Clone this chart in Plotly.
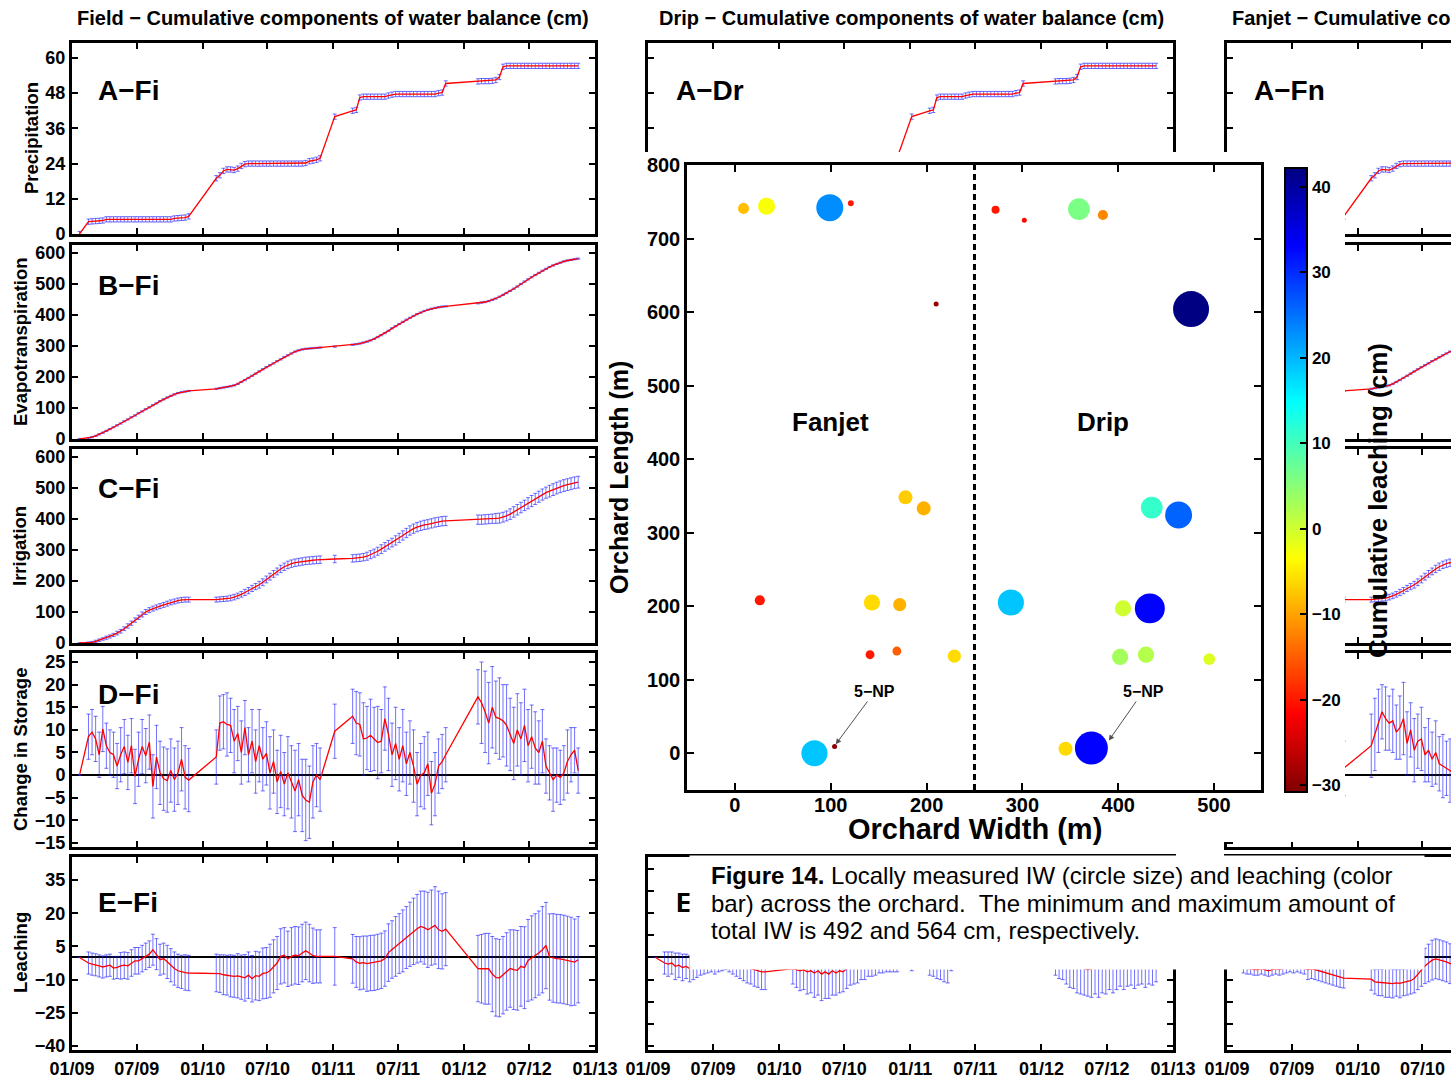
import pandas as pd
import plotly.graph_objects as go

W, H = 1451, 1078
FONT = "Liberation Sans, Arial, Helvetica, sans-serif"

# ------------------------------------------------------------------ data
# observation schedule: segment start dates and number of 10-day samples
seg_start = ['2009-01-22', '2009-02-16', '2010-02-08', '2011-01-05', '2011-02-24', '2012-02-09']
seg_count = [1, 29, 30, 1, 27, 29]

date_ticks = ['2009-01-01', '2009-07-01', '2010-01-01', '2010-07-01', '2011-01-01',
              '2011-07-01', '2012-01-01', '2012-07-01', '2013-01-01']

precip_cm = [
    0.0,
    4.2, 4.3, 4.4, 4.5, 4.6, 5.0, 5.0, 5.0, 5.0, 5.0, 5.0, 5.0, 5.0, 5.0, 5.0, 5.0, 5.0, 5.0, 5.0,
    5.0, 5.0, 5.0, 5.0, 5.0, 5.3, 5.4, 5.5, 5.6, 6.0,
    19.0, 20.0, 21.5, 22.0, 22.0, 21.8, 22.3, 23.2, 23.8, 24.0, 24.0, 24.0, 24.0, 24.0, 24.0, 24.0,
    24.0, 24.0, 24.0, 24.0, 24.0, 24.0, 24.0, 24.0, 24.0, 24.2, 24.8, 25.0, 25.3, 25.8,
    40.0,
    42.0, 42.3, 46.5, 46.8, 46.8, 46.8, 46.8, 46.8, 46.8, 46.8, 47.2, 47.5, 47.7, 47.7, 47.7, 47.7,
    47.7, 47.7, 47.7, 47.7, 47.7, 47.7, 47.7, 47.7, 48.0, 48.2, 51.3,
    52.0, 52.1, 52.1, 52.1, 52.2, 52.5, 53.5, 57.0, 57.3, 57.3, 57.3, 57.3, 57.3, 57.3, 57.3, 57.3,
    57.3, 57.3, 57.3, 57.3, 57.3, 57.3, 57.3, 57.3, 57.3, 57.3, 57.3, 57.3, 57.3,
]
precip_err = 0.9

et_cm = [
    0,
    3, 6, 10, 15, 20, 26, 32, 38, 44, 50, 57, 63, 70, 76, 83, 89, 96, 102, 109, 115,
    122, 128, 134, 139, 144, 148, 151, 153, 155,
    162, 164, 166, 168, 170, 173, 178, 184, 190, 197, 204, 211, 218, 225, 232, 238, 244, 251, 257, 264,
    270, 276, 282, 286, 289, 291, 292, 293, 294, 295,
    298,
    304, 306, 308, 311, 314, 318, 323, 329, 335, 342, 349, 357, 364, 371, 378, 385, 391, 397, 403, 408,
    413, 417, 420, 423, 425, 427, 428,
    438, 440, 442, 445, 449, 453, 459, 465, 471, 478, 485, 492, 500, 508, 515, 522, 529, 536, 543, 549,
    555, 560, 565, 569, 573, 576, 578, 580, 582,
]
et_err = 2.0

irrig_cm = [
    0,
    0.5, 2, 5, 9, 13, 17, 21, 26, 32, 38, 46, 55, 64, 74, 83, 92, 100, 106, 111, 115,
    119, 123, 127, 131, 134, 137, 139, 140, 140,
    140, 141, 142, 143, 145, 148, 152, 157, 163, 169, 176, 182, 188, 196, 205, 214, 223, 231, 239, 246,
    252, 256, 259, 261, 263, 265, 266, 267, 268, 269,
    271,
    273, 274, 275, 277, 280, 285, 290, 296, 303, 310, 317, 324, 331, 339, 347, 355, 363, 369, 374, 378,
    381, 383, 386, 389, 391, 393, 394,
    398, 398, 399, 400, 401, 402, 403, 406, 410, 416, 423, 430, 437, 444, 451, 458, 465, 472, 479, 485,
    490, 495, 500, 504, 508, 511, 514, 517, 519,
]
irrig_err = [
    0,
    3, 3, 4, 4, 4, 5, 5, 5, 6, 6, 6, 7, 7, 7, 7, 8, 8, 8, 8, 8, 8, 8, 8, 8, 8, 8, 8, 8, 8,
    8, 8, 8, 8, 9, 9, 9, 9, 10, 10, 10, 10, 11, 11, 11, 11, 11, 11, 12, 12,
    12, 12, 12, 12, 12, 12, 12, 12, 12, 12,
    12,
    12, 12, 12, 12, 13, 13, 13, 13, 14, 14, 14, 14, 15, 15, 15, 15, 15, 15, 15, 15,
    15, 15, 15, 15, 15, 15, 15,
    15, 15, 15, 15, 15, 16, 16, 16, 16, 17, 17, 17, 17, 17, 18, 18, 18, 18, 18, 18,
    19, 19, 19, 19, 19, 19, 19, 19, 19,
]

dstor_fi = [
    0.0,
    8.5, 9.5, 8.0, 4.5, 10.2, 6.5, 5.0, 4.5, 2.0, 4.5, 6.3, 2.8, 6.5, -0.3, 3.5, 6.3, 4.3, 7.3, -2.5, 4.0,
    0.5, -0.8, -1.2, 1.0, -1.0, 0.5, 3.5, -0.5, -1.1,
    4.0, 11.5, 11.8, 11.2, 11.0, 7.5, 9.2, 5.0, 10.5, 4.5, 7.5, 3.0, 6.5, 3.5, 4.8, 0.5, 3.0, -1.5, 0.8, -2.0,
    0.5, -1.5, -3.5, -1.0, -4.5, -5.5, -6.0, -1.5, 0.0, -1.0,
    9.7,
    13.0, 11.5, 11.2, 8.0, 8.2, 8.8, 8.0, 7.2, 7.5, 12.5, 9.0, 4.5, 7.0, 3.5, 6.5, 2.5, 5.0, 2.0, -2.0, 0.0,
    0.5, 2.5, -4.0, -2.0, 2.0, 3.0, 4.5,
    17.3, 16.0, 14.0, 11.5, 15.0, 12.8, 12.5, 12.0, 11.0, 9.0, 7.0, 10.0, 8.0, 11.0, 6.5, 8.5, 6.0, 5.0, 7.5, 2.0,
    0.5, -1.0, 0.0, -0.5, 0.5, 3.0, 4.5, 5.5, 1.0,
]
dstor_fi_err = [
    0,
    5, 5, 5, 5, 5, 5, 5, 5, 5, 6, 6, 6, 6, 6, 6, 6, 6, 6, 7, 7, 7, 7, 7, 7, 7, 7, 7, 7, 7,
    6, 6, 6, 7, 6, 7, 6, 7, 6, 6, 7, 7, 8, 7, 7, 8, 7, 7, 8, 7, 8, 8, 9, 8, 8, 9, 8, 8, 7, 7,
    6,
    6, 7, 7, 8, 7, 8, 7, 8, 7, 7, 8, 7, 8, 7, 8, 7, 7, 8, 7, 7, 8, 7, 7, 7, 6, 6, 6,
    6, 9, 9, 9, 9, 8, 9, 8, 9, 8, 8, 8, 8, 8, 8, 7, 8, 7, 7, 6, 6, 7, 6, 6, 6, 7, 6, 5, 5,
]

leach_fi = [
    0.0,
    -2.5, -3.0, -3.3, -3.8, -4.3, -3.8, -3.5, -4.8, -4.5, -3.8, -3.5, -3.8, -2.5, -1.5, -1.5, -0.5, 0.5, 1.5,
    3.5, 1.5, -1.0, -0.5, -2.0, -3.5, -5.0, -6.0, -6.5, -6.8, -7.0,
    -7.0, -7.3, -7.8, -8.0, -8.3, -8.5, -8.3, -8.9, -9.2, -8.0, -9.6, -8.2, -8.5, -7.2, -7.0, -6.0, -4.0, -2.5,
    0.5, 1.0, -0.6, 0.5, 1.0, 0.8, 2.0, 3.0, 2.0, 0.8, 0.5, 0.5,
    0.5,
    -0.6, -2.0, -2.6, -2.3, -2.8, -2.5, -2.4, -2.0, -1.5, -0.5, 2.2, 3.6, 5.0, 6.3, 7.5, 9.0, 10.5, 11.8,
    13.0, 14.0, 13.5, 12.5, 13.5, 14.5, 12.5, 11.8, 12.8,
    -5.0, -5.1, -5.1, -5.1, -7.5, -9.0, -9.3, -8.0, -6.3, -5.0, -5.5, -5.8, -4.0, -4.6, -1.3, -0.2, 0.8, 2.0,
    3.5, 5.4, 0.2, -0.2, -0.5, -0.6, -0.9, -1.3, -1.8, -2.1, -1.0,
]
leach_fi_err = [
    0,
    5, 5, 5, 5, 5, 5, 5, 5, 5, 6, 6, 6, 6, 6, 6, 6, 6, 6, 7, 7, 7, 7, 7.5, 7.5, 7.5, 7.5, 7.5, 8, 8,
    8.5, 8.5, 9, 9, 9.5, 9.5, 10, 10, 10.5, 10.5, 10.5, 11, 11, 11.5, 11.5, 12, 12, 12, 12.5, 12.5,
    12.5, 13, 13, 13, 13, 13, 13, 12.5, 12, 12,
    13,
    11, 11.5, 12, 12, 12.5, 12.5, 12.5, 12.5, 12.5, 12.5, 13, 13, 13.5, 13.5, 14, 14, 14.5, 15, 15.5, 16,
    16.5, 17, 17, 17.5, 17.5, 17, 16.5,
    15, 15.5, 16, 16, 17, 17.5, 17.5, 17.5, 17.5, 17.5, 18, 18, 18, 18.5, 18.5, 19, 19, 19, 19.5, 19.5,
    19.5, 20, 20, 20, 20, 20, 20, 19.5, 19.5,
]

leach_dr = [
    0.0,
    -2.5, -3.0, -2.5, -4.0, -3.5, -4.5, -4.0, -5.0, -4.5, -4.0, -3.5, -3.0, -3.0, -2.5, -3.0, -2.5, -2.0, -1.5,
    -2.0, -2.5, -3.0, -3.5, -4.0, -4.5, -5.0, -5.5, -6.0, -6.5, -6.5,
    -5.0, -5.5, -6.0, -5.5, -6.5, -6.0, -7.0, -6.0, -7.5, -6.5, -7.5, -6.0, -7.0, -6.0, -6.5, -5.0, -4.5, -4.0,
    -3.5, -3.0, -3.0, -2.5, -2.5, -2.0, -2.0, -2.0, -1.5, -1.5, -1.5, -1.5,
    -1.0,
    -3.0, -2.5, -3.5, -3.0, -4.0, -3.5, -1.0, 0.0, 0.5, 1.0, 1.5, 2.0, 2.5, 2.5, 3.0, 3.0, 3.5, 3.5, 3.0, 3.0,
    3.5, 3.5, 3.0, 3.0, 2.5, 2.5, 2.0,
    -3.0, -3.5, -3.0, -4.0, -4.5, -4.0, -5.0, -4.5, -5.0, -5.5, -5.0, -4.5, -5.0, -4.0, -4.5, -3.5, -4.0, -3.5,
    -3.0, -3.5, -3.0, -2.5, -3.0, -2.5, -2.0, -2.5, -2.0, -2.5, -2.0,
]
leach_dr_err = [
    0,
    5, 5.5, 5, 6, 5.5, 6, 5.5, 6, 5.5, 5, 4.5, 4.5, 4, 4, 4.5, 4, 4, 4, 4.5, 5, 5.5, 6, 6.5, 7, 7, 7.5, 7.5, 8, 8,
    7, 8, 9, 9, 10, 10, 11, 11, 12, 12, 11, 11, 10, 10, 9, 9, 8, 8, 8, 7, 7, 6, 6, 6, 5, 5, 5, 5, 5, 5,
    5,
    5, 6, 6, 7, 7, 8, 5, 5, 5, 5, 5, 5, 5, 5, 5, 5, 5, 5, 5, 5, 5, 5, 5, 5, 5, 5, 5,
    5, 6, 7, 8, 9, 10, 11, 12, 12, 12, 13, 12, 13, 12, 12, 11, 12, 11, 10, 11, 10, 10, 11, 10, 10, 11, 10, 10, 9,
]

# Fanjet change in storage / leaching (2009-2010 part, the visible span)
dstor_fn = [
    0.0,
    6.0, 8.0, 7.0, 5.0, 9.0, 6.0, 5.0, 4.0, 3.0, 5.0, 6.0, 3.0, 5.0, 1.0, 3.0, 5.0, 4.0, 6.0, 0.0, 3.0,
    1.0, 0.0, -1.0, 1.0, 0.0, 1.0, 2.0, 1.0, 1.5,
    6.5, 9.0, 12.0, 14.0, 12.5, 11.5, 12.0, 9.5, 10.5, 12.5, 7.0, 10.0, 5.5, 7.5, 8.0, 4.5, 5.5, 3.5, 5.0, 2.5,
    2.0, 1.5, 1.0, 0.5, 1.0, -0.5, 0.0, 1.0, 0.5, 0.0,
]
dstor_fn_err = [
    0,
    6, 6, 6, 6, 6, 6, 6, 6, 6, 6, 6, 6, 6, 6, 6, 6, 6, 6, 6, 6, 6, 6, 6, 6, 6, 6, 6, 6, 6,
    7, 8, 7, 6, 7, 6, 7, 6, 7, 8, 7, 6, 7, 6, 7, 6, 7, 6, 7, 6, 7, 6, 7, 6, 7, 6, 7, 6, 7, 6,
]
leach_fn = [
    0.0,
    -4.5, -5.0, -5.0, -5.5, -5.5, -5.0, -5.5, -6.0, -5.5, -5.0, -5.5, -5.0, -4.5, -4.0, -4.5, -4.0, -4.5, -5.0,
    -5.5, -5.0, -5.5, -6.0, -6.5, -7.0, -7.5, -8.0, -8.5, -9.0, -9.3,
    -9.8, -11.0, -11.2, -11.3, -11.5, -11.5, -11.8, -11.5, -11.7, -11.3, -11.0, -10.5, -9.5, -7.5, -5.5,
    -3.8, -2.5, -1.2, -0.6, -1.0, -1.5, -2.0, -2.8, -2.5, -3.0, -2.5, -3.0, -3.5, -3.0, -3.0,
]
leach_fn_err = [
    0,
    2.5, 2.5, 2.5, 2.5, 2.5, 2.5, 2.5, 2.5, 2.5, 2.5, 2.5, 2.5, 2.5, 2.5, 2.5, 2.5, 2.5, 2.5,
    4.5, 4.5, 4.5, 4.5, 4.5, 4.5, 4.5, 4.5, 4.5, 4.5, 4.5,
    5, 5.5, 6, 6, 6.5, 6.5, 6.5, 6, 6.5, 6, 6, 6, 6.5, 7, 7.5, 8, 8.5, 9, 9, 9,
    9, 9, 9, 9, 9, 9, 9, 9, 9, 9,
]

ticks_A = [0, 12, 24, 36, 48, 60]
ticks_BC = [0, 100, 200, 300, 400, 500, 600]
ticks_D = [-15, -10, -5, 0, 5, 10, 15, 20, 25]
ticks_E_fi = [-40, -25, -10, 5, 20, 35]
ticks_E = [-40, -30, -20, -10, 0, 10, 20, 30, 40]

# orchard map (Figure 14)
orch_x = [9, 33, 99, 121, 210, 272, 302, 359, 384, 476,
          178, 197, 435, 463, 26, 143, 172, 288, 405, 433,
          141, 169, 229, 402, 429, 495, 104, 83, 345, 372]
orch_y = [741, 744, 742, 748, 611, 739, 725, 740, 732, 604,
          348, 333, 334, 324, 208, 205, 202, 205, 197, 197,
          134, 139, 132, 131, 134, 128, 9, 0, 6, 7]
orch_iw = [506, 520, 543, 494, 492, 499, 492, 531, 504, 564,
           513, 513, 531, 543, 504, 518, 511, 541, 518, 550,
           501, 501, 511, 518, 518, 508, 492, 541, 513, 557]
orch_leach = [-8, -3, 23, -20, -29, -20, -21, 6, -12, 42,
              -7, -9, 11, 26, -20, -6, -9, 19, 0, 33,
              -20, -15, -6, 3, 2, -1, -30, 19, -6, 33]
iw_min, iw_max = 492, 564
leach_min, leach_max = -30.8, 42.2
cbar_ticks = [-30, -20, -10, 0, 10, 20, 30, 40]
divider_x = 250
np_targets = [(104, 10), (389, 15)]
np_labels = [(146, 84), (426, 84)]

# ------------------------------------------------------------------ helpers
obs_dates = []
for s, n in zip(seg_start, seg_count):
    obs_dates.extend(pd.date_range(s, periods=n, freq='10D').strftime('%Y-%m-%d').tolist())

for nm, arr in (('precip', precip_cm), ('et', et_cm), ('irr', irrig_cm), ('irr_err', irrig_err),
                ('dfi', dstor_fi), ('dfi_e', dstor_fi_err), ('lfi', leach_fi), ('lfi_e', leach_fi_err),
                ('ldr', leach_dr), ('ldr_e', leach_dr_err)):
    assert len(arr) == len(obs_dates), (nm, len(arr))
for nm, arr in (('dfn', dstor_fn), ('dfn_e', dstor_fn_err), ('lfn', leach_fn), ('lfn_e', leach_fn_err)):
    assert len(arr) == 60, (nm, len(arr))


def pxx(x):
    return x / W


def pxy(y):
    return 1 - y / H


col_px = {'Fi': (72, 595), 'Dr': (648, 1173), 'Fn': (1227, 1750)}
row_px = {'A': (43, 234), 'B': (245, 439), 'C': (449, 643), 'D': (653, 847), 'E': (857, 1050)}
row_range = {'A': [0, 65.1], 'B': [0, 626], 'C': [0, 626], 'D': [-15.9, 27.0], 'E': [-41.8, 45.4]}
t0, t1 = pd.Timestamp('2009-01-01'), pd.Timestamp('2013-01-01')

EB = 'rgba(20,20,255,0.6)'
AX = dict(showline=True, linecolor='black', linewidth=3, ticks='inside', ticklen=6, tickwidth=2,
          tickcolor='black', showgrid=False, zeroline=False, fixedrange=True,
          tickfont=dict(family=FONT, size=18, color='black', weight='bold'))

fig = go.Figure()
layout = {}


def add_panel(n, col, row, y=None, err=None, err_const=None, yticks=None, xlabels=False, ylabels=False):
    x0, x1 = col_px[col]
    y0, y1 = row_px[row]
    cut = x1 > W
    if cut:
        xend = t0 + (t1 - t0) * ((W - x0) / (x1 - x0))
        xdom = [x0 / W, 1.0]
    else:
        xend = t1
        xdom = [x0 / W, x1 / W]
    s = '' if n == 1 else str(n)
    layout['xaxis' + s] = dict(AX, type='date', domain=xdom, range=[str(t0), str(xend)],
                               tickvals=date_ticks, tickformat='%m/%y', mirror='ticks',
                               showticklabels=xlabels, anchor='y' + s)
    layout['yaxis' + s] = dict(AX, domain=[pxy(y1), pxy(y0)], range=row_range[row], tickvals=yticks,
                               mirror=False if cut else 'ticks', showticklabels=ylabels,
                               anchor='x' + s, zeroline=row in 'DE', zerolinecolor='black',
                               zerolinewidth=2)
    if y is None:
        return
    if err is not None:
        ey = dict(type='data', array=err, color=EB, thickness=1, width=2)
    else:
        ey = dict(type='constant', value=err_const, color=EB, thickness=1, width=2)
    fig.add_trace(go.Scatter(x=obs_dates[:len(y)], y=y, mode='lines',
                             line=dict(color='red', width=1.3), error_y=ey,
                             xaxis='x' + s, yaxis='y' + s, hoverinfo='skip', showlegend=False))


add_panel(1, 'Fi', 'A', precip_cm, err_const=precip_err, yticks=ticks_A, ylabels=True)
add_panel(2, 'Fi', 'B', et_cm, err_const=et_err, yticks=ticks_BC, ylabels=True)
add_panel(3, 'Fi', 'C', irrig_cm, irrig_err, yticks=ticks_BC, ylabels=True)
add_panel(4, 'Fi', 'D', dstor_fi, dstor_fi_err, yticks=ticks_D, ylabels=True)
add_panel(5, 'Fi', 'E', leach_fi, leach_fi_err, yticks=ticks_E_fi, ylabels=True, xlabels=True)
add_panel(6, 'Dr', 'A', precip_cm, err_const=precip_err, yticks=ticks_A)
add_panel(7, 'Dr', 'D', None, yticks=ticks_D)
add_panel(8, 'Dr', 'E', leach_dr, leach_dr_err, yticks=ticks_E, xlabels=True)
add_panel(9, 'Fn', 'A', precip_cm, err_const=precip_err, yticks=ticks_A)
add_panel(10, 'Fn', 'B', et_cm, err_const=et_err, yticks=ticks_BC)
add_panel(11, 'Fn', 'C', irrig_cm, irrig_err, yticks=ticks_BC)
add_panel(12, 'Fn', 'D', dstor_fn, dstor_fn_err, yticks=ticks_D)
add_panel(13, 'Fn', 'E', leach_fn, leach_fn_err, yticks=ticks_E, xlabels=True)

# white inset area of the orchard figure (its own subplot background hides what lies beneath)
layout['xaxis14'] = dict(domain=[pxx(600), pxx(1345)], range=[0, 1], visible=False, anchor='y14',
                         fixedrange=True)
layout['yaxis14'] = dict(domain=[pxy(842), pxy(152)], range=[0, 1], visible=False, anchor='x14',
                         fixedrange=True)
fig.add_trace(go.Scatter(x=[0.5], y=[0.5], mode='markers', marker=dict(opacity=0),
                         xaxis='x14', yaxis='y14', hoverinfo='skip', showlegend=False))

# orchard map
OAX = dict(showline=True, linecolor='black', linewidth=2.5, ticks='inside', ticklen=7, tickwidth=2,
           tickcolor='black', showgrid=False, zeroline=False, mirror='ticks', fixedrange=True,
           tickfont=dict(family=FONT, size=20, color='black', weight='bold'))
orch_xrange = [-50, 549]
orch_yrange = [-50, 800]
layout['xaxis15'] = dict(OAX, domain=[pxx(687), pxx(1261)], range=orch_xrange,
                         tickvals=[0, 100, 200, 300, 400, 500], anchor='y15', ticklabelstandoff=-5)
layout['yaxis15'] = dict(OAX, domain=[pxy(790), pxy(165)], range=orch_yrange,
                         tickvals=[0, 100, 200, 300, 400, 500, 600, 700, 800], anchor='x15')

fig.add_trace(go.Scatter(x=[divider_x, divider_x], y=orch_yrange, mode='lines',
                         line=dict(color='black', width=3, dash='6px,4px'),
                         xaxis='x15', yaxis='y15', hoverinfo='skip', showlegend=False))

jet_r = [[0, 'rgb(128,0,0)'], [0.125, 'rgb(255,0,0)'], [0.375, 'rgb(255,255,0)'],
         [0.625, 'rgb(0,255,255)'], [0.875, 'rgb(0,0,255)'], [1, 'rgb(0,0,128)']]
orch_size = [5 + (v - iw_min) / (iw_max - iw_min) * 31 for v in orch_iw]
fig.add_trace(go.Scatter(
    x=orch_x, y=orch_y, mode='markers', xaxis='x15', yaxis='y15', hoverinfo='skip', showlegend=False,
    marker=dict(size=orch_size, color=orch_leach, colorscale=jet_r, cmin=leach_min, cmax=leach_max,
                opacity=1, line=dict(width=0), showscale=True,
                colorbar=dict(x=pxx(1285), xanchor='left', xpad=0, y=pxy(168), yanchor='top', ypad=0,
                              len=(792 - 168) / H, lenmode='fraction', thickness=22,
                              thicknessmode='pixels', outlinecolor='black', outlinewidth=2,
                              tickvals=cbar_ticks, ticks='inside', ticklen=8, tickwidth=2,
                              tickcolor='black', bgcolor='rgba(0,0,0,0)',
                              tickfont=dict(family=FONT, size=17, color='black', weight='bold')))))

# ------------------------------------------------------------------ text
def txt(text, x, y, size, bold=True, xanchor='center', yanchor='middle', angle=0, **kw):
    d = dict(text=text, x=x, y=y, xref=kw.pop('xref', 'paper'), yref=kw.pop('yref', 'paper'),
             xanchor=xanchor, yanchor=yanchor, showarrow=False, textangle=angle,
             font=dict(family=FONT, size=size, color='black', weight='bold' if bold else 'normal'))
    d.update(kw)
    return d


ann = []
ann.append(txt('Field − Cumulative components of water balance (cm)', pxx(333), pxy(18), 20))
ann.append(txt('Drip − Cumulative components of water balance (cm)', pxx(911), pxy(18), 20))
ann.append(txt('Fanjet − Cumulative components of water balance (cm)', pxx(1230), pxy(18), 20,
               xanchor='left'))

for lab, yc in zip(['A−Fi', 'B−Fi', 'C−Fi', 'D−Fi', 'E−Fi'], [90, 285, 488, 694, 902]):
    ann.append(txt(lab, pxx(96), pxy(yc), 28, xanchor='left'))
ann.append(txt('A−Dr', pxx(674), pxy(90), 28, xanchor='left'))
ann.append(txt('A−Fn', pxx(1252), pxy(90), 28, xanchor='left'))
ann.append(txt('E−Dr', pxx(674), pxy(902), 28, xanchor='left'))

for lab, xc, yc in [('Precipitation', 31, 138), ('Evapotranspiration', 20, 342), ('Irrigation', 20, 546),
                    ('Change in Storage', 20, 750), ('Leaching', 20, 953)]:
    ann.append(txt(lab, pxx(xc), pxy(yc), 18.5, angle=-90))

ann.append(txt('Orchard Width (m)', pxx(975), pxy(829), 29))
ann.append(txt('Orchard Length (m)', pxx(619), pxy(478), 25, angle=-90))
ann.append(txt('Fanjet', 100, 450, 26, xref='x15', yref='y15'))
ann.append(txt('Drip', 384, 450, 26, xref='x15', yref='y15'))
for (hx, hy), (lx, ly) in zip(np_targets, np_labels):
    ann.append(dict(text='5−NP', x=hx, y=hy, xref='x15', yref='y15', ax=lx, ay=ly, axref='x15',
                    ayref='y15', showarrow=True, arrowhead=2, arrowsize=1.1, arrowwidth=1,
                    arrowcolor='rgb(80,80,80)', standoff=2,
                    font=dict(family=FONT, size=16, color='black', weight='bold')))
ann.append(txt('Cumulative leaching (cm)', pxx(1378), pxy(501), 26, angle=-90))

# caption block
ann.append(dict(text=' ', x=pxx(689), y=pxy(855), xref='paper', yref='paper', xanchor='left',
                yanchor='top', width=734, height=113, bgcolor='white', borderpad=0, showarrow=False))
cap_lines = ['<b>Figure 14.</b> Locally measured IW (circle size) and leaching (color',
             'bar) across the orchard.&nbsp; The minimum and maximum amount of',
             'total IW is 492 and 564 cm, respectively.']
for line, yc in zip(cap_lines, [875, 903, 930]):
    ann.append(txt(line, pxx(709), pxy(yc), 24, bold=False, xanchor='left'))

fig.update_layout(
    width=W, height=H, autosize=False, margin=dict(l=0, r=0, t=0, b=0, pad=0),
    paper_bgcolor='white', plot_bgcolor='white', showlegend=False, template='none',
    annotations=ann, hovermode=False, **layout)

fig.write_html('out.html')
